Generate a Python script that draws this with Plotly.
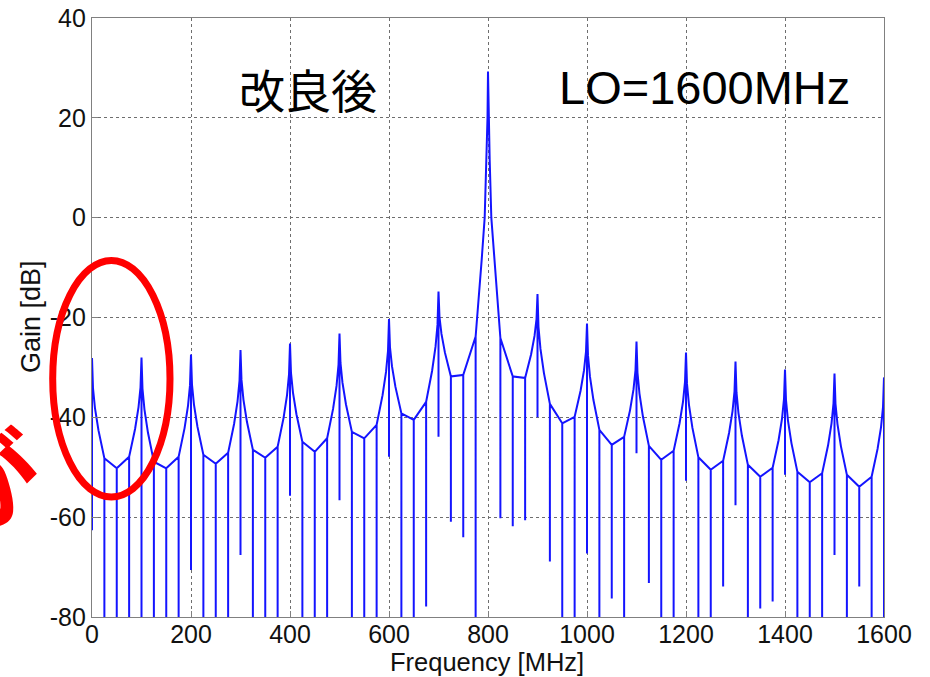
import plotly.graph_objects as go

# ---------------- data ----------------
peak_freq_mhz = [0, 100, 200, 300, 400, 500, 600, 700, 800,
                 900, 1000, 1100, 1200, 1300, 1400, 1500, 1600]
peak_db = [-28.1, -28.0, -27.4, -26.5, -25.2, -23.2, -20.3, -14.8, 29.3,
           -15.3, -21.2, -24.8, -27.0, -28.8, -30.4, -31.2, -32.0]
# bottom of the vertical drop drawn at each peak (None = no drop)
peak_floor_db = [-62.6, -90, -70.6, -67.6, -55.7, -56.6, -47.9, -43.9, None,
                 -40.0, -67.3, -47.2, -52.7, -57.6, -51.5, -67.6, -90]

# envelope level at +25, +50, +75 MHz inside each 100 MHz segment
shoulder_offsets_mhz = [25, 50, 75]
env_db = [
    [-48.2, -50.2, -47.9],
    [-48.9, -50.2, -47.9],
    [-47.5, -49.3, -47.1],
    [-46.5, -48.1, -45.9],
    [-44.9, -46.9, -44.2],
    [-42.9, -44.2, -41.5],
    [-39.2, -40.5, -36.9],
    [-31.8, -31.5, -23.8],
    [-24.1, -31.8, -32.1],
    [-37.3, -41.2, -39.9],
    [-42.5, -45.5, -43.9],
    [-45.7, -48.5, -46.7],
    [-48.0, -50.5, -48.7],
    [-49.5, -51.9, -50.1],
    [-50.9, -53.0, -51.2],
    [-51.5, -53.9, -51.9],
]
# depth of the notch at each of those points (-90 = below the axis)
notch_db = [
    [-90, -90, -90],
    [-90, -90, -90],
    [-90, -90, -90],
    [-90, -90, -90],
    [-90, -90, -90],
    [-90, -90, -90],
    [-90, -90, -77.9],
    [-60.9, -64.0, -90],
    [-60.2, -61.8, -60.6],
    [-68.9, -90, -90],
    [-90, -76.3, -90],
    [-73.2, -90, -90],
    [-90, -90, -73.9],
    [-90, -78.3, -76.9],
    [-90, -90, -90],
    [-90, -73.9, -90],
]
# skirt profile of the side peaks (offset from peak, share of the drop to the shoulder)
skirt_offset_mhz = [2, 6, 13]
skirt_share = [0.30, 0.50, 0.72]
# skirt of the 800 MHz main peak
main_skirt_offset_mhz = [1.0, 3.4, 6.7, 12.8]
main_skirt_db = [20.0, 11.6, 0.0, -8.5]

x_ticks = [0, 200, 400, 600, 800, 1000, 1200, 1400, 1600]
x_tick_text = ["0", "200", "400", "600", "800", "1000", "1200", "1400", "1600"]
y_ticks = [-80, -60, -40, -20, 0, 20, 40]
y_tick_text = ["-80", "-60", "-40", "-20", "0", "20", "40"]

# ---------------- build the trace ----------------
fx, fy = [], []
n_peaks = len(peak_freq_mhz)
for k in range(n_peaks):
    f0 = peak_freq_mhz[k]
    p = peak_db[k]
    is_main = (k == 8)
    # left skirt
    if k > 0:
        s_left = env_db[k - 1][-1]
        if is_main:
            for off, v in reversed(list(zip(main_skirt_offset_mhz, main_skirt_db))):
                fx.append(f0 - off); fy.append(v)
        else:
            for off, sh in reversed(list(zip(skirt_offset_mhz, skirt_share))):
                fx.append(f0 - off); fy.append(p - sh * (p - s_left))
    # peak and its drop
    fx.append(f0); fy.append(p)
    if peak_floor_db[k] is not None:
        fx.append(f0); fy.append(peak_floor_db[k])
        fx.append(f0); fy.append(p)
    # right skirt and shoulders with notches
    if k < n_peaks - 1:
        s_right = env_db[k][0]
        if is_main:
            for off, v in zip(main_skirt_offset_mhz, main_skirt_db):
                fx.append(f0 + off); fy.append(v)
        else:
            for off, sh in zip(skirt_offset_mhz, skirt_share):
                fx.append(f0 + off); fy.append(p - sh * (p - s_right))
        for j, off in enumerate(shoulder_offsets_mhz):
            e = env_db[k][j]
            fx += [f0 + off, f0 + off, f0 + off]
            fy += [e, notch_db[k][j], e]

fig = go.Figure()
fig.add_trace(go.Scatter(x=fx, y=fy, mode="lines",
                         line=dict(color="rgb(20,20,255)", width=2),
                         hoverinfo="skip", showlegend=False))

font_latin = "Liberation Sans, Arial, sans-serif"
axis_common = dict(
    showgrid=True, gridcolor="#6e6e6e", griddash="dot", gridwidth=1,
    showline=True, mirror=True, linecolor="#808080", linewidth=1.2,
    ticks="inside", ticklen=6, tickcolor="#808080",
    zeroline=False, automargin=False,
    tickfont=dict(family=font_latin, size=25, color="#111"),
)
fig.update_layout(
    width=930, height=677,
    margin=dict(l=92, r=46, t=18, b=60),
    paper_bgcolor="white", plot_bgcolor="white",
    xaxis=dict(range=[0, 1600], tickvals=x_ticks, ticktext=x_tick_text,
               ticklabelstandoff=-5, **axis_common),
    yaxis=dict(range=[-80, 40], tickvals=y_ticks, ticktext=y_tick_text, **axis_common),
)

fig.add_annotation(text="Frequency [MHz]", xref="paper", yref="paper",
                   x=(487 - 92) / 792, y=(617 - 662) / 599,
                   xanchor="center", yanchor="middle", showarrow=False,
                   font=dict(family=font_latin, size=25.5, color="#111"))
fig.add_annotation(text="Gain [dB]", xref="paper", yref="paper",
                   x=(31 - 92) / 792, y=(617 - 317) / 599, textangle=-90,
                   xanchor="center", yanchor="middle", showarrow=False,
                   font=dict(family=font_latin, size=27, color="#111"))
fig.add_annotation(text="改良後", xref="paper", yref="paper",
                   x=(308 - 92) / 792, y=(617 - 88) / 599,
                   xanchor="center", yanchor="middle", showarrow=False,
                   font=dict(family="Noto Sans CJK JP", size=46, color="black"))
fig.add_annotation(text="LO=1600MHz", xref="paper", yref="paper",
                   x=(704 - 92) / 792, y=(617 - 88) / 599,
                   xanchor="center", yanchor="middle", showarrow=False,
                   font=dict(family=font_latin, size=47, color="black"))
fig.add_annotation(text="<b>が</b>", xref="paper", yref="paper",
                   x=(-12 - 92) / 792, y=(617 - 478) / 599, textangle=-20,
                   xanchor="center", yanchor="middle", showarrow=False,
                   font=dict(family="Noto Sans CJK JP", size=100, color="red"))

fig.add_shape(type="circle", xref="paper", yref="paper",
              x0=(52.7 - 92) / 792, x1=(170 - 92) / 792,
              y0=(617 - 497) / 599, y1=(617 - 260.5) / 599,
              line=dict(color="red", width=7), layer="above")

fig.write_html("out.html")
